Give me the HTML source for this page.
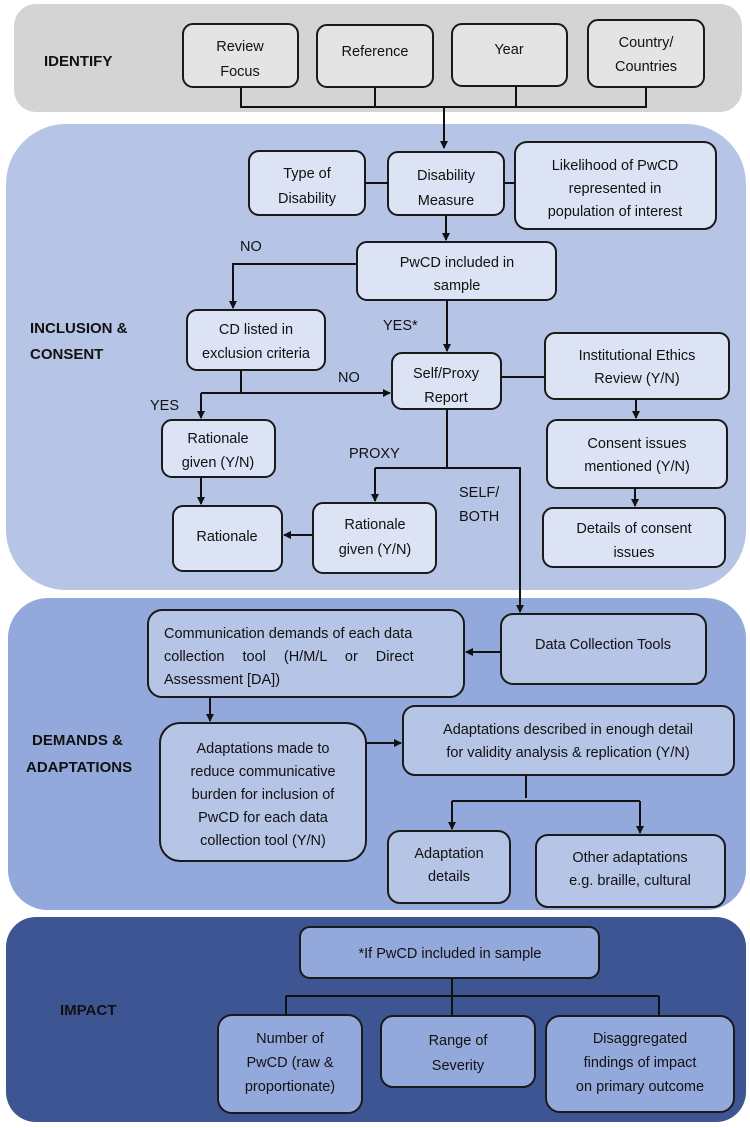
<!DOCTYPE html>
<html><head><meta charset="utf-8"><style>
html,body{margin:0;padding:0;background:#fff}
svg{display:block}
text{font-family:"Liberation Sans",sans-serif;font-size:14.5px;fill:#111}
.l{font-weight:bold;font-size:15px}
.b{stroke:#1a1a1a;stroke-width:2}
.c{stroke:#111;stroke-width:2;fill:none}
</style></head><body>
<svg width="750" height="1128" viewBox="0 0 750 1128" xmlns="http://www.w3.org/2000/svg">
<defs><marker id="a" markerWidth="8" markerHeight="8" refX="7" refY="4" orient="auto" markerUnits="userSpaceOnUse"><path d="M0,0 L8,4 L0,8z" fill="#111"/></marker></defs>
<rect x="14" y="4" width="728" height="108" rx="22" fill="#d4d4d4"/>
<rect x="6" y="124" width="740" height="466" rx="60" fill="#b6c5e5"/>
<rect x="8" y="598" width="738" height="312" rx="40" fill="#94a9db"/>
<rect x="6" y="917" width="740" height="205" rx="30" fill="#3e5593"/>
<text class="l" x="44" y="66">IDENTIFY</text>
<text class="l" x="30" y="333">INCLUSION &amp;</text><text class="l" x="30" y="359">CONSENT</text>
<text class="l" x="32" y="745">DEMANDS &amp;</text><text class="l" x="26" y="772">ADAPTATIONS</text>
<text class="l" x="60" y="1015">IMPACT</text>
<g fill="#e4e4e4" class="b">
<rect x="183" y="24" width="115" height="63" rx="10"/><rect x="317" y="25" width="116" height="62" rx="10"/>
<rect x="452" y="24" width="115" height="62" rx="10"/><rect x="588" y="20" width="116" height="67" rx="10"/></g>
<g text-anchor="middle"><text x="240" y="51">Review</text><text x="240" y="76">Focus</text>
<text x="375" y="56">Reference</text><text x="509" y="54">Year</text>
<text x="646" y="47">Country/</text><text x="646" y="71">Countries</text></g>
<path class="c" d="M241 87V107M375 87V107M516 86V107M646 87V107M240 107H647"/>
<path class="c" d="M444 107V148" marker-end="url(#a)"/>
<g fill="#dce3f5" class="b">
<rect x="249" y="151" width="116" height="64" rx="10"/><rect x="388" y="152" width="116" height="63" rx="10"/>
<rect x="515" y="142" width="201" height="87" rx="12"/><rect x="357" y="242" width="199" height="58" rx="10"/>
<rect x="187" y="310" width="138" height="60" rx="10"/><rect x="392" y="353" width="109" height="56" rx="10"/>
<rect x="162" y="420" width="113" height="57" rx="10"/><rect x="173" y="506" width="109" height="65" rx="10"/>
<rect x="313" y="503" width="123" height="70" rx="10"/><rect x="545" y="333" width="184" height="66" rx="10"/>
<rect x="547" y="420" width="180" height="68" rx="10"/><rect x="543" y="508" width="182" height="59" rx="10"/></g>
<g text-anchor="middle">
<text x="307" y="178">Type of</text><text x="307" y="203">Disability</text>
<text x="446" y="180">Disability</text><text x="446" y="205">Measure</text>
<text x="615" y="170">Likelihood of PwCD</text><text x="615" y="193">represented in</text><text x="615" y="216">population of interest</text>
<text x="457" y="267">PwCD included in</text><text x="457" y="290">sample</text>
<text x="256" y="334">CD listed in</text><text x="256" y="358">exclusion criteria</text>
<text x="446" y="378">Self/Proxy</text><text x="446" y="402">Report</text>
<text x="218" y="443">Rationale</text><text x="218" y="467">given (Y/N)</text>
<text x="227" y="541">Rationale</text>
<text x="375" y="529">Rationale</text><text x="375" y="554">given (Y/N)</text>
<text x="637" y="360">Institutional Ethics</text><text x="637" y="383">Review (Y/N)</text>
<text x="637" y="448">Consent issues</text><text x="637" y="471">mentioned (Y/N)</text>
<text x="634" y="533">Details of consent</text><text x="634" y="557">issues</text></g>
<g style="font-size:13.5px"><text x="240" y="251">NO</text><text x="383" y="330">YES*</text>
<text x="338" y="382">NO</text><text x="150" y="410">YES</text><text x="349" y="458">PROXY</text>
<text x="459" y="497">SELF/</text><text x="459" y="521">BOTH</text></g>
<path class="c" d="M365 183H388M504 183H515M241 370V393M447 409V468M375 468H520V608M501 377H545"/>
<path class="c" d="M446 215V240" marker-end="url(#a)"/>
<path class="c" d="M357 264H233V308" marker-end="url(#a)"/>
<path class="c" d="M447 300V351" marker-end="url(#a)"/>
<path class="c" d="M201 393H390" marker-end="url(#a)"/>
<path class="c" d="M201 393V418" marker-end="url(#a)"/>
<path class="c" d="M201 477V504" marker-end="url(#a)"/>
<path class="c" d="M313 535H284" marker-end="url(#a)"/>
<path class="c" d="M375 468V501" marker-end="url(#a)"/>
<path class="c" d="M636 399V418" marker-end="url(#a)"/>
<path class="c" d="M635 488V506" marker-end="url(#a)"/>
<path class="c" d="M520 590V612" marker-end="url(#a)"/>
<g fill="#b6c5e5" class="b">
<rect x="148" y="610" width="316" height="87" rx="14"/><rect x="501" y="614" width="205" height="70" rx="12"/>
<rect x="160" y="723" width="206" height="138" rx="20"/><rect x="403" y="706" width="331" height="69" rx="12"/>
<rect x="388" y="831" width="122" height="72" rx="12"/><rect x="536" y="835" width="189" height="72" rx="12"/></g>
<text x="164" y="638">Communication demands of each data</text>
<text x="164" y="661" word-spacing="14">collection tool (H/M/L or Direct</text>
<text x="164" y="684">Assessment [DA])</text>
<g text-anchor="middle">
<text x="603" y="649">Data Collection Tools</text>
<text x="263" y="753">Adaptations made to</text><text x="263" y="776">reduce communicative</text>
<text x="263" y="799">burden for inclusion of</text><text x="263" y="822">PwCD for each data</text><text x="263" y="845">collection tool (Y/N)</text>
<text x="568" y="734">Adaptations described in enough detail</text><text x="568" y="757">for validity analysis &amp; replication (Y/N)</text>
<text x="449" y="858">Adaptation</text><text x="449" y="881">details</text>
<text x="630" y="862">Other adaptations</text><text x="630" y="885">e.g. braille, cultural</text></g>
<path class="c" d="M501 652H466" marker-end="url(#a)"/>
<path class="c" d="M210 697V721" marker-end="url(#a)"/>
<path class="c" d="M366 743H401" marker-end="url(#a)"/>
<path class="c" d="M526 775V798M452 801H640"/>
<path class="c" d="M452 801V829" marker-end="url(#a)"/>
<path class="c" d="M640 801V833" marker-end="url(#a)"/>
<g fill="#94a9db" class="b">
<rect x="300" y="927" width="299" height="51" rx="10"/><rect x="218" y="1015" width="144" height="98" rx="14"/>
<rect x="381" y="1016" width="154" height="71" rx="12"/><rect x="546" y="1016" width="188" height="96" rx="14"/></g>
<g text-anchor="middle">
<text x="450" y="958">*If PwCD included in sample</text>
<text x="290" y="1043">Number of</text><text x="290" y="1067">PwCD (raw &amp;</text><text x="290" y="1091">proportionate)</text>
<text x="458" y="1045">Range of</text><text x="458" y="1070">Severity</text>
<text x="640" y="1043">Disaggregated</text><text x="640" y="1067">findings of impact</text><text x="640" y="1091">on primary outcome</text></g>
<path class="c" d="M452 978V996M286 996H659M286 996V1015M452 996V1016M659 996V1016"/>
</svg>
</body></html>
